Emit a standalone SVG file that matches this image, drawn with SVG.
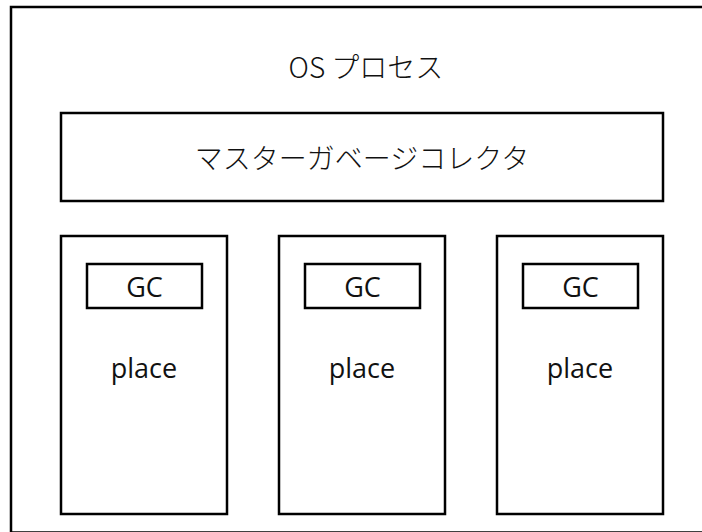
<svg xmlns="http://www.w3.org/2000/svg" width="702" height="532" viewBox="0 0 702 532">
<style>
.box{fill:#fff;stroke:#000;stroke-width:2.5}
.t{font-family:"Open Sans","Noto Sans CJK JP",sans-serif;font-size:27px;fill:#111;text-anchor:middle;dominant-baseline:central}
.j{font-family:"Noto Sans CJK JP",sans-serif;font-weight:300;font-size:28px;fill:#111;text-anchor:middle;dominant-baseline:central}
</style>
<rect width="702" height="532" fill="#fff"/>
<g id="os-process">
<rect class="box" x="11" y="7" width="710" height="525.5"/>
<text class="j" x="366" y="66">OS プロセス</text>
</g>
<g id="master-gc">
<rect class="box" x="61" y="113" width="602" height="88"/>
<text class="j" x="362" y="157">マスターガベージコレクタ</text>
</g>
<g id="place1">
<rect class="box" x="61" y="236" width="166" height="278"/>
<text class="t" x="144" y="367">place</text>
</g>
<g id="gc1">
<rect class="box" x="87" y="264" width="115" height="44"/>
<text class="t" x="144.5" y="286">GC</text>
</g>
<g id="place2">
<rect class="box" x="279" y="236" width="166" height="278"/>
<text class="t" x="362" y="367">place</text>
</g>
<g id="gc2">
<rect class="box" x="305" y="264" width="115" height="44"/>
<text class="t" x="362.5" y="286">GC</text>
</g>
<g id="place3">
<rect class="box" x="497" y="236" width="166" height="278"/>
<text class="t" x="580" y="367">place</text>
</g>
<g id="gc3">
<rect class="box" x="523" y="264" width="115" height="44"/>
<text class="t" x="580.5" y="286">GC</text>
</g>
<g id="connectors"/>
</svg>
